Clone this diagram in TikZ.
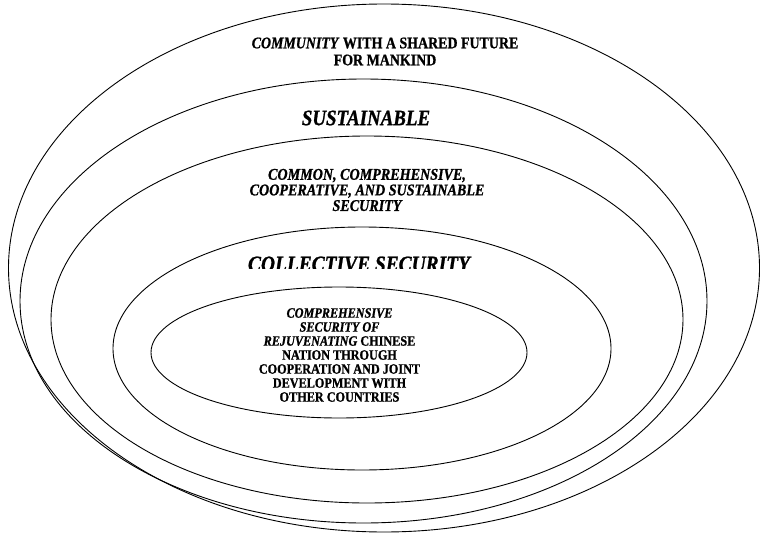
\documentclass[tikz,border=0pt]{standalone}
\usepackage{fontspec}
\setmainfont{Liberation Serif}[
  FakeStretch=0.86,
  UprightFont={Liberation Serif},
  BoldFont={Liberation Serif Bold},
  ItalicFont={Liberation Serif Italic},
  BoldItalicFont={Liberation Serif Bold Italic},
  BoldFeatures={FakeBold=1},
  BoldItalicFeatures={FakeBold=1}]
\usetikzlibrary{shapes.geometric}
\tikzset{
  ring/.style={ellipse, draw=black, line width=0.9pt, inner sep=0pt, fill=none},
  label/.style={inner sep=0pt, outer sep=0pt, align=center, font=\bfseries, text=black}
}
\begin{document}
\begin{tikzpicture}[x=1pt,y=-1pt]
\useasboundingbox (0,0) rectangle (760,535);
% rings
\node[ring, minimum width=751pt, minimum height=528pt] (e1) at (384,268) {};
\node[ring, minimum width=687pt, minimum height=444pt] (e2) at (363.5,301) {};
\node[ring, minimum width=632pt, minimum height=367pt] (e3) at (367,319.5) {};
\node[ring, minimum width=498pt, minimum height=243pt] (e4) at (362,348.5) {};
\node[ring, minimum width=376pt, minimum height=131pt] (e5) at (339,352.5) {};
% texts
\node[label, font=\bfseries\fontsize{16.2}{17}\selectfont] (t1) at (385,51.5)
  {\textit{COMMUNITY} WITH A SHARED FUTURE\\FOR MANKIND};
\node[label, font=\bfseries\itshape\fontsize{22}{24}\selectfont] (t2) at (366,118) {SUSTAINABLE};
\node[label, font=\bfseries\itshape\fontsize{16.4}{15.6}\selectfont] (t3) at (367,190)
  {COMMON, COMPREHENSIVE,\\COOPERATIVE, AND SUSTAINABLE\\SECURITY};
\begin{scope}
  \clip (150,235) rectangle (560,268.5);
  \node[label, font=\bfseries\itshape\fontsize{22.6}{24}\selectfont, anchor=base] (t4) at (359,271.5) {COLLECTIVE SECURITY};
\end{scope}
\node[label, font=\bfseries\fontsize{14.2}{14}\selectfont] (t5) at (339.5,355)
  {\textit{COMPREHENSIVE}\\\textit{SECURITY OF}\\\textit{REJUVENATING} CHINESE\\NATION THROUGH\\COOPERATION AND JOINT\\DEVELOPMENT WITH\\OTHER COUNTRIES};
\end{tikzpicture}
\end{document}
